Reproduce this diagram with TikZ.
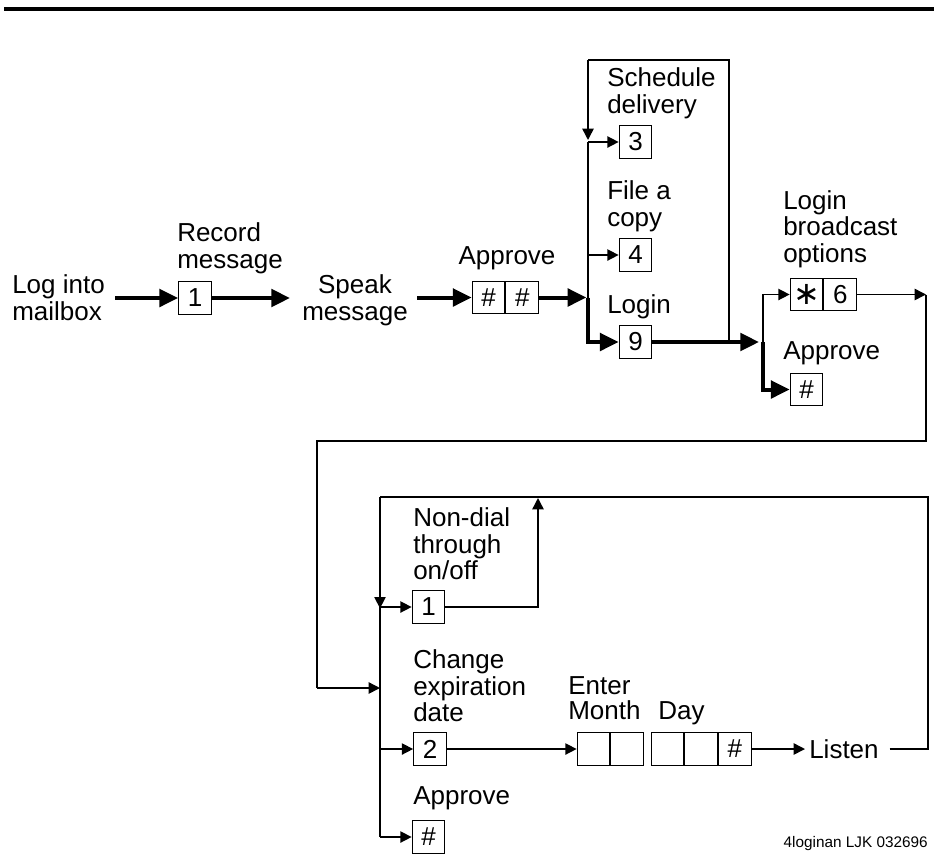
\documentclass[tikz,border=0pt]{standalone}
\usepackage{fontspec}
\setmainfont{Liberation Sans}
\newfontfamily\djv{DejaVu Sans}
\usetikzlibrary{arrows.meta}
\newcommand\lblf{\fontsize{19.5}{20}\selectfont}
\begin{document}
\begin{tikzpicture}[x=0.75pt,y=-0.75pt,
  lbl/.style={align=left, inner sep=0pt, anchor=west, font=\lblf},
  key/.style={draw, line width=0.8pt, minimum width=24.5pt, minimum height=24.5pt, inner sep=0pt, font=\lblf},
  bigarr/.style={line width=3pt, -{Triangle[length=14pt,width=13pt]}},
  smallarr/.style={line width=1.1pt, -{Triangle[length=8.5pt,width=8.5pt]}},
  thinln/.style={line width=1.1pt},
  bigln/.style={line width=3pt}]
\useasboundingbox (0,0) rectangle (934,861);
\coordinate (rl) at (4,8.5); \coordinate (rr) at (934,8.5);
\draw[line width=3pt] (rl) -- (rr);

% ---- top row ----
\node[lbl] (tlog) at (12,298) {Log into\\mailbox};
\node[key] (k1) at (195,298) {1};
\node[lbl] (trec) at (177,248) {Record\\message};
\node[align=center, inner sep=0pt, font=\lblf] (tspeak) at (355,300) {Speak\\message};
\node[key] (ha) at (488.5,297.5) {\#};
\node[key, anchor=west] (hb) at (ha.east) {\#};
\node[align=center, inner sep=0pt, font=\lblf] (tappr1) at (507,258) {Approve};

\node[lbl] (tsched) at (607,93.5) {Schedule\\delivery};
\node[key] (k3) at (635.5,142) {3};
\node[lbl] (tfile) at (607,206) {File a\\copy};
\node[key] (k4) at (635.5,255) {4};
\node[lbl] (tlogin) at (607,307) {Login};
\node[key] (k9) at (635.5,342) {9};

\coordinate (j1) at (588,297.5);
\coordinate (j1b) at (588,342);
\coordinate (c1) at (588,60);
\coordinate (c2) at (729,60);
\coordinate (c3) at (729,342);

\draw[bigarr, shorten <=7.5pt] (tlog.east |- k1.west) -- (k1.west);
\draw[bigarr, shorten >=9pt] (k1.east) -- (k1.east -| tspeak.west);
\draw[bigarr, shorten <=7pt] (tspeak.east |- ha.west) -- (ha.west);
\draw[bigarr, shorten >=1.2pt] (hb.east) -- (j1);
\draw[bigarr] (j1) -- (j1b) -- (k9.west);
\draw[thinln] (c3) -- (c2) -- (c1);
\draw[smallarr] (c1) -- ([yshift=1.5pt]c1 |- k3.west);
\draw[thinln] (c1 |- k3.west) -- (j1);
\draw[smallarr] (c1 |- k3.west) -- (k3.west);
\draw[smallarr] (c1 |- k4.west) -- (k4.west);

% ---- login broadcast ----
\node[lbl] (tlbo) at (783,229) {Login\\broadcast\\options};
\node[key] (ks) at (806.5,294.5) {\djv\fontsize{24}{24}\selectfont ∗};
\node[key, anchor=west] (k6) at (ks.east) {6};
\node[lbl] (tappr2) at (783,353) {Approve};
\node[key] (ka) at (806.5,389.5) {\#};

\coordinate (j2) at (759,342);
\coordinate (j3) at (763,342);
\draw[bigarr] (k9.east) -- (j2);
\draw[smallarr] (j3) -- (j3 |- ks.west) -- (ks.west);
\draw[bigarr] (j3) -- (j3 |- ka.west) -- (ka.west);

\coordinate (r1) at (926,294.5);
\coordinate (r2) at (926,441);
\coordinate (r3) at (317,441);
\coordinate (r4) at (317,688);
\coordinate (j4) at (380,688);
\draw[smallarr] (k6.east) -- (r1);
\draw[thinln] (r1) -- (r2) -- (r3) -- (r4);
\draw[smallarr] (r4) -- (j4);

% ---- lower section ----
\node[lbl] (tnon) at (413,544) {Non-dial\\through\\on/off};
\node[key] (k1b) at (428.5,607) {1};
\node[lbl] (tchg) at (413,686) {Change\\expiration\\date};
\node[key] (k2) at (430,749) {2};
\node[lbl] (tappr3) at (413,798) {Approve};
\node[key] (kb) at (428.5,837) {\#};

\node[lbl, anchor=base west] (tenter) at (568,694) {Enter};
\node[lbl, anchor=base west] (tmonth) at (568,719) {Month};
\node[lbl, anchor=base west] (tday) at (658,719) {Day};
\node[key] (km1) at (593.5,749) {};
\node[key, anchor=west] (km2) at (km1.east) {};
\node[key] (kd1) at (667.5,749) {};
\node[key, anchor=west] (kd2) at (kd1.east) {};
\node[key, anchor=west] (kd3) at (kd2.east) {\#};
\node[lbl] (tlisten) at (809,749) {Listen};

\node[font=\fontsize{11.5}{12}\selectfont, anchor=east, inner sep=0pt] (cred) at (928,844) {4loginan LJK 032696};

\coordinate (j5) at (380,497);
\coordinate (j6) at (380,837);
\coordinate (u1) at (538,498);
\coordinate (l1) at (928,749);
\coordinate (l2) at (928,497);

\draw[smallarr] (j5) -- ([yshift=-1pt]j5 |- k1b.west);
\draw[thinln] (j5 |- k1b.west) -- (j6);
\draw[smallarr] (j5 |- k1b.west) -- (k1b.west);
\draw[smallarr] (j5 |- k2.west) -- (k2.west);
\draw[smallarr] (j6) -- (kb.west);
\draw[smallarr] (k1b.east) -- (k1b.east -| u1) -- (u1);
\draw[smallarr] (k2.east) -- (k2.east -| km1.west);
\draw[smallarr, shorten >=3pt] (kd3.east) -- (kd3.east -| tlisten.west);
\draw[thinln, shorten <=8pt] (tlisten.east) -- (l1) -- (l2) -- (j5);
\end{tikzpicture}
\end{document}
